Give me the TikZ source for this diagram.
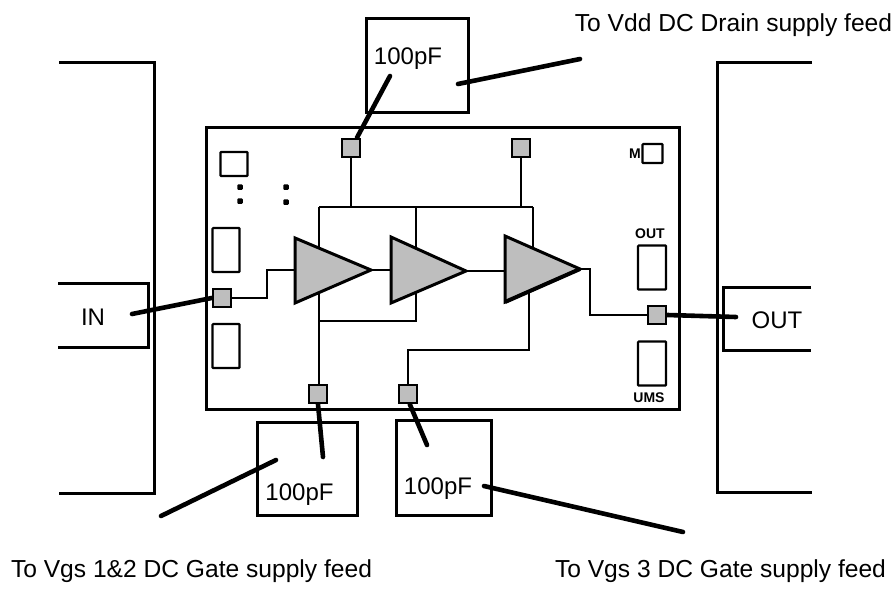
\documentclass[tikz,border=0pt]{standalone}
\usepackage{fontspec}
\setmainfont{Liberation Sans}
\definecolor{padgray}{HTML}{BEBEBE}
\tikzset{
  frameEdge/.style={draw=black, line width=3pt, line join=miter},
  thinWire/.style={draw=black, line width=2pt},
  bondWire/.style={draw=black, line width=4.6pt, line cap=round},
  ampShape/.style={draw=black, fill=padgray, line width=3pt, line join=miter},
  padBox/.style={rectangle, draw=black, fill=padgray, line width=2.6pt, minimum size=18pt, inner sep=0pt, outer sep=1.3pt},
  capBox/.style={rectangle, draw=black, fill=white, line width=3pt, inner sep=0pt},
  testBox/.style={rectangle, draw=black, fill=white, line width=2.2pt, rounded corners=0.8pt, inner sep=0pt},
  dotMark/.style={rectangle, fill=black, rounded corners=1pt, minimum width=5.5pt, minimum height=5.5pt, inner sep=0pt},
  mainLbl/.style={font=\fontsize{24}{28}\selectfont, inner sep=0pt},
  noteLbl/.style={font=\fontsize{24.6}{28}\selectfont, inner sep=0pt},
  chipLbl/.style={font=\fontsize{14}{16}\selectfont\bfseries, inner sep=0pt},
}
\newcommand{\AmpCorners}{%
  \coordinate (ampAtop) at (295,238);
  \coordinate (ampAbot) at (295,303);
  \coordinate (ampAtip) at (371,270);
  \coordinate (ampBtop) at (391,237);
  \coordinate (ampBbot) at (391,303);
  \coordinate (ampBtip) at (466,271);
  \coordinate (ampCtop) at (505,236);
  \coordinate (ampCbot) at (505,302);
  \coordinate (ampCtip) at (580,269);
}
\begin{document}
\begin{tikzpicture}[x=1pt, y=-1pt]
  \useasboundingbox (0,0) rectangle (895,592);
  \AmpCorners

  % carrier outlines and line sections
  \draw[frameEdge] (59,62)--(154,62)--(154,493)--(59,493);
  \draw[frameEdge] (812,62)--(717,62)--(717,492)--(812,492);
  \draw[frameEdge] (58,283)--(148,283)--(148,347)--(58,347);
  \draw[frameEdge] (811,287)--(723,287)--(723,350)--(811,350);
  \node[mainLbl] (inLbl) at (93,317) {IN};
  \node[mainLbl] (outLbl) at (777,320) {OUT};

  % die
  \node[rectangle, frameEdge, minimum width=473pt, minimum height=282pt, inner sep=0pt] (chipDie) at (442.5,268) {};
  \node[testBox, minimum width=27pt, minimum height=24pt] (testA) at (234,164) {};
  \node[testBox, minimum width=27pt, minimum height=44pt] (testB) at (226,250) {};
  \node[testBox, minimum width=27pt, minimum height=44pt] (testC) at (226,346) {};
  \node[testBox, minimum width=20pt, minimum height=19pt] (testM) at (652.5,153.5) {};
  \node[testBox, minimum width=28pt, minimum height=44pt] (testOut) at (652,267.5) {};
  \node[testBox, minimum width=28pt, minimum height=44pt] (testUms) at (652,363.5) {};
  \node[chipLbl] (lblM) at (635,154) {M};
  \node[chipLbl] (lblOut) at (650,234) {OUT};
  \node[chipLbl] (lblUms) at (649,398) {UMS};
  \node[dotMark] (dotA) at (240,187) {};
  \node[dotMark] (dotB) at (240,201) {};
  \node[dotMark] (dotC) at (286,187) {};
  \node[dotMark] (dotD) at (286,202) {};

  % pads
  \node[padBox] (padDrainA) at (351,148) {};
  \node[padBox] (padDrainB) at (521,148) {};
  \node[padBox] (padIn) at (222,298) {};
  \node[padBox] (padOut) at (657,315) {};
  \node[padBox] (padGateA) at (318,394) {};
  \node[padBox] (padGateB) at (408,394) {};

  % bias and signal routing
  \coordinate (busTopL) at (319,207);
  \coordinate (busTopM) at (416,207);
  \coordinate (busTopR) at (533,207);
  \coordinate (busLowL) at (319,321);
  \coordinate (busLowR) at (416,321);
  \draw[thinWire] (busTopL)--(busTopR);
  \draw[thinWire] (padDrainA.south)--(351,207);
  \draw[thinWire] (padDrainB.south)--(521,207);
  \draw[thinWire] (busTopL)--(319,260);
  \draw[thinWire] (busTopM)--(416,260);
  \draw[thinWire] (busTopR)--(533,260);
  \draw[thinWire] (padGateA.north -| busLowL)--(busLowL)--(319,280);
  \draw[thinWire] (busLowL)--(busLowR)--(416,280);
  \draw[thinWire] (padGateB.north)--(408,350)--(529,350)--(529,280);
  \draw[thinWire] (padIn.east)--(267,298)--(267,270)--(ampAtop|-ampAtip);
  \draw[thinWire] (ampAtip)--(ampBtop|-ampAtip);
  \draw[thinWire] (ampBtip)--(ampCtop|-ampBtip);
  \draw[thinWire] (ampCtip)--(590,269)--(590,315)--(padOut.west);

  % amplifiers
  \draw[ampShape] (ampAtop)--(ampAtip)--(ampAbot)--cycle;
  \draw[ampShape] (ampBtop)--(ampBtip)--(ampBbot)--cycle;
  \draw[ampShape] (ampCtop)--(ampCtip)--(ampCbot)--cycle;
  \draw[draw=black, line width=4pt] (ampCbot)--(ampCtip);

  % decoupling capacitors
  \node[capBox, minimum width=102pt, minimum height=94pt] (capTop) at (417,65) {};
  \node[capBox, minimum width=100pt, minimum height=93pt] (capGateA) at (307,468.5) {};
  \node[capBox, minimum width=95pt, minimum height=95pt] (capGateB) at (443.5,467.5) {};
  \node[mainLbl] (capTopLbl) at (408,59) {100pF};
  \node[mainLbl] (capGateALbl) at (299.5,495) {100pF};
  \node[mainLbl] (capGateBLbl) at (438,489) {100pF};

  % free ends of the bond wires
  \coordinate (bondTop) at (390,76);
  \coordinate (feedDrainA) at (458,84);
  \coordinate (feedDrainB) at (580,59);
  \coordinate (bondIn) at (132,314);
  \coordinate (bondOut) at (736,317);
  \coordinate (bondGateA) at (323,457);
  \coordinate (bondGateB) at (427,445);
  \coordinate (feedGateA) at (161,516);
  \coordinate (feedGateB) at (276,460);
  \coordinate (feedGateC) at (484,486);
  \coordinate (feedGateD) at (683,532);

  \draw[bondWire] (padDrainA.60)--(bondTop);
  \draw[bondWire] (feedDrainA)--(feedDrainB);
  \draw[bondWire] (padIn.west)--(bondIn);
  \draw[bondWire] (padOut.east)--(bondOut);
  \draw[bondWire] (padGateA.south)--(bondGateA);
  \draw[bondWire] (padGateB.280)--(bondGateB);
  \draw[bondWire] (feedGateA)--(feedGateB);
  \draw[bondWire] (feedGateC)--(feedGateD);

  \node[noteLbl] (noteDrain) at (733.5,25.5) {To Vdd DC Drain supply feed};
  \node[noteLbl] (noteGateA) at (191.5,571.5) {To Vgs 1\&2 DC Gate supply feed};
  \node[noteLbl] (noteGateB) at (720.5,571.5) {To Vgs 3 DC Gate supply feed};
\end{tikzpicture}
\end{document}
